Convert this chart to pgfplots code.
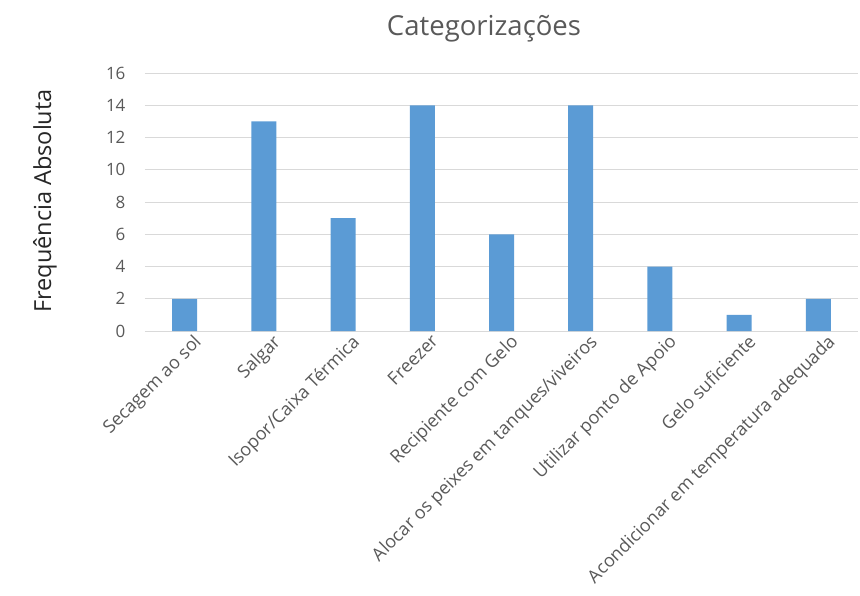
\documentclass[border=0pt]{standalone}
\usepackage{pgfplots}
\pgfplotsset{compat=1.18}
\usepackage{fontspec}
\setmainfont{Open Sans}
\definecolor{barblue}{HTML}{5B9BD5}
\definecolor{txtgray}{HTML}{595959}
\definecolor{gridgray}{HTML}{D9D9D9}
\begin{document}
\begin{tikzpicture}[x=1pt,y=1pt]
\useasboundingbox (-145,-264) rectangle (715,331);
\begin{axis}[
  at={(0,0)}, anchor=south west,
  scale only axis,
  width=713pt, height=258pt,
  ybar, bar width=25pt,
  xmin=-0.5, xmax=8.5,
  ymin=0, ymax=16,
  ytick={0,2,...,16},
  xtick={0,...,8},
  xticklabels={Secagem ao sol,Salgar,Isopor/Caixa Térmica,Freezer,Recipiente com Gelo,Alocar os peixes em tanques/viveiros,Utilizar ponto de Apoio,Gelo suficiente,Acondicionar em temperatura adequada},
  xticklabel style={rotate=45, anchor=north east, font=\fontsize{18}{20}\selectfont, text=txtgray, inner sep=1pt, xshift=5pt, yshift=-6pt},
  yticklabel style={font=\fontsize{17}{19}\selectfont, text=txtgray, xshift=-16pt},
  /pgf/number format/assume math mode=true,
  major tick length=0pt,
  ymajorgrids, grid style={gridgray, line width=0.8pt},
  axis lines*=left,
  y axis line style={draw=none},
  x axis line style={gridgray, line width=0.8pt},
  ytick style={draw=none}, xtick style={draw=none},
  clip=false,
]
\addplot[fill=barblue, draw=none] coordinates {(0,2) (1,13) (2,7) (3,14) (4,6) (5,14) (6,4) (7,1) (8,2)};
\end{axis}
\node[text=txtgray, font=\fontsize{27.5}{30}\selectfont] at (339,302) {Categorizações};
\node[rotate=90, text=black!85, font=\fontsize{23.5}{26}\selectfont] at (-100,130) {Frequência Absoluta};
\end{tikzpicture}
\end{document}
